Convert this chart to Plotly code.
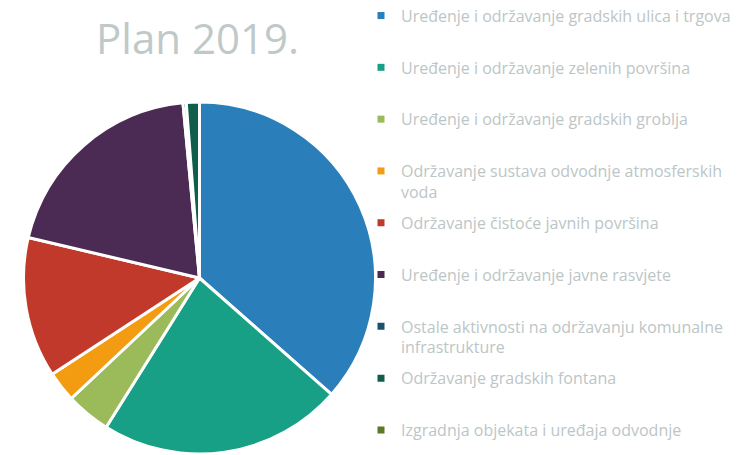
import plotly.graph_objects as go

labels = [
    "Uređenje i održavanje gradskih ulica i trgova",
    "Uređenje i održavanje zelenih površina",
    "Uređenje i održavanje gradskih groblja",
    "Održavanje sustava odvodnje atmosferskih<br>voda",
    "Održavanje čistoće javnih površina",
    "Uređenje i održavanje javne rasvjete",
    "Ostale aktivnosti na održavanju komunalne<br>infrastrukture",
    "Održavanje gradskih fontana",
    "Izgradnja objekata i uređaja odvodnje",
]
values = [36.5, 22.4, 4.1, 2.8, 12.9, 19.8, 0.3, 1.2, 0.0]
colors = ["#2A7FBA", "#17A086", "#9BBB5B", "#F39C12", "#C0392B",
          "#4B2A53", "#1D4F6E", "#0F5E4B", "#5A7A25"]
title_text = "Plan 2019."

fig = go.Figure()
fig.add_trace(go.Pie(
    labels=[l.replace("<br>", " ") for l in labels],
    values=values,
    marker=dict(colors=colors, line=dict(color="white", width=3)),
    sort=False, direction="clockwise", rotation=0,
    textinfo="none", showlegend=False, hoverinfo="label+value",
    domain=dict(x=[(199.5 - 176) / 744, (199.5 + 176) / 744],
                y=[(455 - 454) / 455, (455 - 102) / 455]),
))

n = len(labels)
for i, (lab, col) in enumerate(zip(labels, colors)):
    txt = lab if ("<br>" in lab or i == n - 1) else lab + "<br> "
    fig.add_trace(go.Scatter(
        x=[None], y=[None], mode="markers", name=txt,
        marker=dict(symbol="square", size=7, color=col),
        legendgroup=f"g{i}", showlegend=True, hoverinfo="skip",
    ))

fig.update_layout(
    width=744, height=455,
    margin=dict(l=0, r=0, t=0, b=0, autoexpand=False),
    paper_bgcolor="white", plot_bgcolor="white",
    xaxis=dict(visible=False), yaxis=dict(visible=False),
    title=dict(text=title_text, x=197.5 / 744, xanchor="center",
               y=1 - 39 / 455, yanchor="middle",
               font=dict(family="Open Sans", size=42, color="#BFC9C8")),
    legend=dict(
        x=361 / 744, xanchor="left", y=1.003, yanchor="top",
        font=dict(family="Open Sans", size=16, color="#BCC6C6"),
        tracegroupgap=7.2, valign="top", itemwidth=30,
        bgcolor="rgba(0,0,0,0)", maxheight=1000,
    ),
)

fig.write_html("out.html", config={"displayModeBar": False},
               post_script="document.body.style.margin='0';")
